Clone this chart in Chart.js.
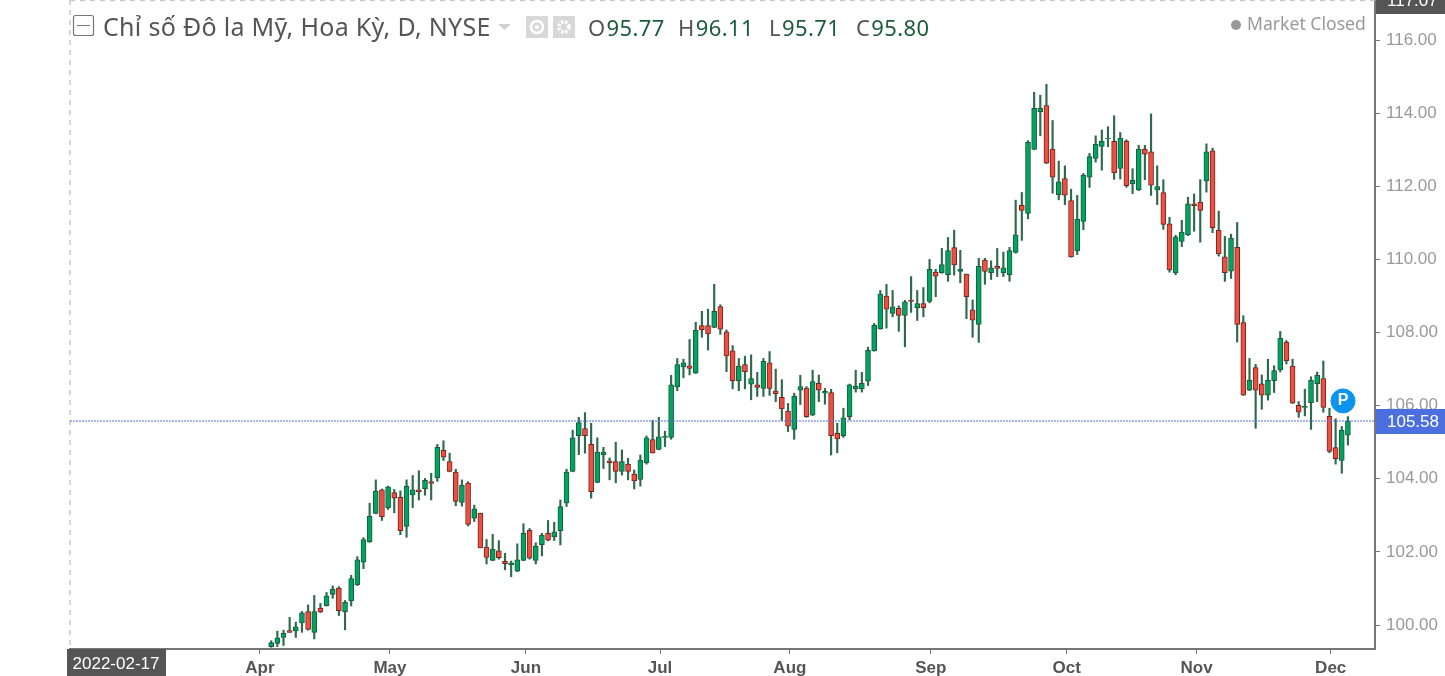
<!DOCTYPE html>
<html lang="vi">
<head>
<meta charset="utf-8">
<title>Chỉ số Đô la Mỹ</title>
<script src="https://cdn.jsdelivr.net/npm/chart.js@4"></script>
<style>
    html, body { margin: 0; padding: 0; background: #fff; overflow: hidden; }
    #wrap { position: relative; width: 1445px; height: 676px; }
    #chart { position: absolute; left: 0; top: 0; }
    .txt { position: absolute; white-space: nowrap; font-family: "Noto Sans", sans-serif; color: #555; line-height: 1; }
    .ohlc { top: 16px; font-size: 22px; letter-spacing: 0.4px; }
    .val { color: #1d5c3a; margin-left: 1px; }
</style>
</head>
<body>
<div id="wrap">
    <canvas id="chart" width="1445" height="676"></canvas>
    <div class="txt" id="title" style="left:103px;top:14px;font-size:25px;letter-spacing:0.3px;">Chỉ số Đô la Mỹ, Hoa Kỳ, D, NYSE</div>
    <div class="txt ohlc" style="left:588px;">O<span class="val">95.77</span></div>
    <div class="txt ohlc" style="left:678px;">H<span class="val">96.11</span></div>
    <div class="txt ohlc" style="left:769px;">L<span class="val">95.71</span></div>
    <div class="txt ohlc" style="left:856px;">C<span class="val">95.80</span></div>
    <div class="txt" style="left:1247px;top:15px;font-size:17.6px;color:#999;">Market Closed</div>
</div>
<script>
// Daily candles, one row = ten sessions
const opens = [
    99.41,99.50,99.66,99.85,99.84,100.06,100.37,99.80,100.46,100.53,
    100.84,101.01,100.36,100.66,101.10,101.72,102.28,103.05,103.70,103.21,
    103.62,103.49,102.70,103.56,103.70,103.73,103.92,104.02,104.78,104.47,
    104.18,103.35,103.88,102.92,103.06,102.13,101.77,102.03,101.74,101.65,
    101.47,101.77,102.59,101.77,102.20,102.51,102.41,102.58,103.34,104.20,
    105.18,105.37,104.94,103.90,104.66,104.49,104.47,104.20,104.40,104.13,
    103.98,104.44,105.07,104.80,105.13,105.13,106.51,107.06,107.09,106.89,
    108.19,108.19,108.14,108.71,108.02,107.50,106.68,107.12,106.59,106.57,
    106.47,107.17,106.40,106.23,105.85,105.35,106.42,106.48,105.74,106.61,
    106.34,106.36,105.24,105.18,105.70,106.46,106.46,106.67,107.50,108.10,
    109.00,108.52,108.66,108.47,108.89,108.68,108.79,108.85,109.65,109.64,
    109.58,110.32,109.67,109.60,108.62,108.22,109.98,109.64,109.81,109.64,
    109.58,110.19,111.48,111.26,113.01,114.04,114.21,113.02,111.77,112.21,
    111.61,110.23,111.04,112.25,112.76,113.09,113.30,113.23,112.49,113.23,
    112.07,111.90,113.02,112.94,111.90,111.83,110.97,109.63,110.49,110.67,
    111.52,111.57,112.15,112.97,110.80,110.07,109.68,110.33,108.27,106.42,
    107.04,106.60,106.29,106.68,106.98,107.73,107.08,106.01,105.95,106.08,
    106.60,106.74,105.71,104.85,104.50,105.19
];
const highs = [
    99.57,99.83,99.86,100.21,100.08,100.37,100.55,100.81,100.59,100.89,
    101.07,101.05,100.67,101.36,101.87,102.39,103.33,103.97,103.72,103.80,
    103.71,103.67,103.97,104.09,104.22,104.01,104.15,104.94,105.04,104.70,
    104.26,103.97,103.92,103.28,103.06,102.34,102.48,102.31,101.96,101.75,
    102.22,102.77,102.64,102.25,102.51,102.86,102.81,103.42,104.26,105.33,
    105.68,105.81,105.52,105.12,104.86,104.57,105.00,104.79,104.56,104.24,
    104.65,105.17,105.60,105.68,105.30,106.83,107.29,107.27,107.81,108.28,
    108.58,108.64,109.32,108.76,108.07,107.64,107.29,107.35,107.39,106.91,
    107.29,107.48,107.00,106.71,106.06,106.34,106.83,106.52,106.97,106.84,
    106.47,106.45,105.52,105.93,106.59,106.97,106.91,107.60,108.25,109.15,
    109.32,109.15,108.73,108.88,109.53,109.15,109.23,110.00,109.73,110.30,
    110.60,110.80,110.25,109.60,108.89,110.03,110.03,109.96,110.30,110.20,
    110.33,111.62,111.83,113.25,114.57,114.49,114.79,113.80,112.69,112.56,
    111.92,111.75,112.35,112.90,113.38,113.54,113.63,113.93,113.47,113.27,
    112.48,113.12,113.12,113.98,112.56,112.18,111.15,110.66,111.07,111.70,
    111.79,112.18,113.16,113.04,111.32,110.63,110.69,111.01,108.46,107.29,
    107.13,106.84,107.27,107.09,108.03,107.78,107.27,106.11,106.45,106.79,
    106.92,107.22,105.93,105.64,105.43,105.70
];
const lows = [
    99.39,99.41,99.44,99.80,99.66,99.80,99.86,99.62,100.34,100.52,
    100.73,100.26,99.87,100.52,101.08,101.54,102.26,103.04,102.86,103.16,
    103.07,102.47,102.40,103.21,103.42,103.55,103.42,103.93,104.50,104.19,
    103.26,103.25,102.71,102.83,102.11,101.67,101.76,101.80,101.51,101.32,
    101.46,101.76,101.80,101.67,101.89,102.30,102.31,102.19,103.24,104.19,
    104.66,104.70,103.47,103.89,104.28,103.97,103.89,104.10,103.97,103.72,
    103.80,104.40,104.70,104.79,104.88,105.08,106.41,106.76,106.84,106.88,
    107.87,107.52,108.13,107.95,106.93,106.46,106.41,106.46,106.16,106.25,
    106.25,106.28,106.11,105.59,105.29,105.08,106.03,105.68,105.73,106.11,
    106.04,104.65,104.71,105.13,105.61,106.37,106.37,106.55,107.49,108.09,
    108.12,108.43,108.03,107.61,108.55,108.33,108.43,108.81,108.98,109.62,
    109.40,109.57,109.36,108.38,107.87,107.73,109.32,109.45,109.53,109.53,
    109.40,110.17,110.52,111.11,113.00,113.38,112.62,111.81,111.63,111.50,
    110.06,110.13,110.81,111.97,112.66,112.44,113.08,112.19,112.20,111.97,
    111.80,111.88,112.18,111.75,111.50,110.82,109.65,109.58,110.35,110.65,
    110.77,110.47,111.84,110.73,110.09,109.40,109.48,107.74,106.28,106.41,
    105.38,105.90,106.15,106.36,106.92,107.14,106.06,105.68,105.72,105.35,
    106.11,105.82,104.71,104.40,104.15,104.92
];
const closes = [
    99.52,99.65,99.77,99.80,99.95,100.33,99.88,100.37,100.36,100.80,
    100.98,100.39,100.63,101.27,101.78,102.34,102.97,103.66,102.96,103.78,
    103.47,102.58,103.79,103.70,103.65,103.96,103.87,104.86,104.59,104.20,
    103.38,103.83,102.75,103.18,102.11,101.85,102.08,101.84,101.68,101.70,
    101.78,102.51,101.83,102.16,102.46,102.32,102.55,103.24,104.18,105.12,
    105.54,105.18,103.65,104.73,104.73,104.44,104.20,104.47,104.20,103.94,
    104.51,105.12,104.71,105.15,105.16,106.57,107.12,107.17,107.02,108.06,
    108.08,107.96,108.58,108.09,107.36,106.68,107.08,106.93,106.74,106.50,
    107.21,106.47,106.33,105.91,105.44,106.26,106.52,105.70,106.66,106.42,
    106.39,105.18,105.09,105.67,106.57,106.53,106.61,107.51,108.20,109.05,
    108.64,108.70,108.47,108.84,108.85,108.79,108.68,109.73,109.54,109.86,
    110.24,109.85,109.73,108.98,108.34,109.81,109.67,109.77,109.75,109.77,
    110.24,110.67,111.34,113.20,114.13,114.13,112.63,112.25,112.12,111.76,
    110.07,111.10,112.30,112.81,113.15,113.23,113.32,112.37,113.32,112.02,
    112.16,113.02,112.88,112.03,111.99,110.96,109.71,110.62,110.75,111.52,
    111.47,111.34,112.94,110.87,110.15,109.64,110.58,108.22,106.29,106.69,
    106.42,106.29,106.69,106.96,107.85,107.23,106.07,105.82,105.98,106.69,
    106.83,105.95,104.75,104.55,105.33,105.58
];

// Axis values: month ticks sit at session numbers, a bit off the candles like the original
const monthLabels = ['Apr', 'May', 'Jun', 'Jul', 'Aug', 'Sep', 'Oct', 'Nov', 'Dec'];
const monthSessions = [-0.84, 20.3, 42.4, 64.2, 85.3, 108.2, 130.3, 151.4, 173.2];
const priceTicks = [100, 102, 104, 106, 108, 110, 112, 114, 116];

const sessionMin = -31.7, sessionMax = 180.4;
const priceMin = 99.344, priceMax = 117.095;
const lastPrice = 105.58;
const topPrice = '117.07';
const startDate = '2022-02-17';
const markerSession = 175.2, markerPrice = 106.13;

const GREEN = '#00a35f', GREEN_EDGE = '#1c5a3e';
const RED = '#ef4f40', RED_EDGE = '#74241f';
const WICK = '#2f6a4d';

const sessions = opens.map((_, i) => i + 1);
const isUp = i => closes[i] >= opens[i];

// The tick labels must not push the plot area in from the edges
const noPadding = scale => {
    scale.paddingTop = scale.paddingBottom = scale.paddingLeft = scale.paddingRight = 0;
};

// Everything the library has no element for: crosshair lines, price tags, header icons
const overlayPlugin = {
    id: 'overlay',
    beforeDatasetsDraw(chart) {
        const { ctx, chartArea: a } = chart;
        ctx.save();
        ctx.strokeStyle = '#c9c9c9';
        ctx.lineWidth = 1.5;
        ctx.setLineDash([5, 5]);
        ctx.beginPath();
        ctx.moveTo(a.left, 0.5);
        ctx.lineTo(a.right, 0.5);
        ctx.moveTo(a.left, 0);
        ctx.lineTo(a.left, a.bottom);
        ctx.stroke();
        ctx.restore();
    },
    afterDraw(chart) {
        const { ctx, chartArea: a, scales } = chart;
        ctx.save();

        // last price tag
        const py = scales.y.getPixelForValue(lastPrice);
        ctx.fillStyle = '#4c6fe0';
        ctx.fillRect(a.right + 1, py - 12, 70, 25);
        ctx.fillStyle = '#fff';
        ctx.font = '17px "Liberation Sans", Arial, sans-serif';
        ctx.textBaseline = 'middle';
        ctx.textAlign = 'left';
        ctx.fillText(lastPrice.toFixed(2), 1387, py + 1);

        // crosshair price tag, cut by the top edge
        ctx.fillStyle = '#555';
        ctx.fillRect(a.right + 1, 0, 70, 14);
        ctx.fillStyle = '#fff';
        ctx.fillText(topPrice, 1387, 1);

        // crosshair date tag
        ctx.fillStyle = '#555';
        ctx.fillRect(67, a.bottom, 99, 27);
        ctx.fillStyle = '#fff';
        ctx.textAlign = 'center';
        ctx.fillText(startDate, 116, a.bottom + 15);

        // P marker letter
        const mx = scales.x.getPixelForValue(markerSession);
        const my = scales.y.getPixelForValue(markerPrice);
        ctx.font = 'bold 16px "Liberation Sans", Arial, sans-serif';
        ctx.fillText('P', mx, my);

        // header icons
        ctx.strokeStyle = '#777';
        ctx.lineWidth = 1.2;
        ctx.beginPath();
        ctx.roundRect(73.5, 15.5, 20, 20, 2);
        ctx.moveTo(77, 25.5);
        ctx.lineTo(90, 25.5);
        ctx.stroke();

        ctx.fillStyle = '#d0d0d0';
        ctx.beginPath();
        ctx.moveTo(498, 24);
        ctx.lineTo(511, 24);
        ctx.lineTo(504.5, 30);
        ctx.fill();

        ctx.fillStyle = '#d8d8d8';
        ctx.fillRect(526, 16, 22, 22);
        ctx.fillRect(553, 16, 22, 22);
        ctx.strokeStyle = '#fff';
        ctx.lineWidth = 2.5;
        ctx.beginPath();
        ctx.arc(537, 27, 6, 0, Math.PI * 2);
        ctx.stroke();
        ctx.beginPath();
        ctx.arc(564, 27, 5, 0, Math.PI * 2);
        ctx.lineWidth = 3.5;
        ctx.setLineDash([2.5, 1.5]);
        ctx.stroke();
        ctx.setLineDash([]);
        ctx.fillStyle = '#fff';
        ctx.beginPath();
        ctx.arc(537, 27, 2, 0, Math.PI * 2);
        ctx.fill();

        ctx.fillStyle = '#999';
        ctx.beginPath();
        ctx.arc(1236, 25, 5, 0, Math.PI * 2);
        ctx.fill();
        ctx.restore();
    }
};

new Chart(document.getElementById('chart').getContext('2d'), {
    type: 'bar',
    data: {
        datasets: [
            {
                type: 'line',
                data: [{ x: sessionMin, y: lastPrice }, { x: sessionMax, y: lastPrice }],
                borderColor: '#4c6fe0',
                borderWidth: 1,
                borderDash: [2, 1],
                pointRadius: 0,
                order: 0
            },
            {
                type: 'scatter',
                data: [{ x: markerSession, y: markerPrice }],
                backgroundColor: '#0a93f0',
                borderColor: '#0a93f0',
                pointRadius: 12,
                clip: false,
                order: 0
            },
            {
                // candle bodies
                data: sessions.map((s, i) => ({ x: s, y: [opens[i], closes[i]] })),
                backgroundColor: sessions.map((_, i) => isUp(i) ? GREEN : RED),
                borderColor: sessions.map((_, i) => isUp(i) ? GREEN_EDGE : RED_EDGE),
                borderWidth: 1,
                borderSkipped: false,
                barThickness: 5,
                grouped: false,
                order: 1
            },
            {
                // wicks
                data: sessions.map((s, i) => ({ x: s, y: [lows[i], highs[i]] })),
                backgroundColor: WICK,
                barThickness: 1.5,
                grouped: false,
                order: 2
            }
        ]
    },
    options: {
        responsive: false,
        animation: false,
        devicePixelRatio: 1,
        // the P marker would otherwise reserve room around the plot
        layout: { autoPadding: false, padding: { left: 70, top: 0, right: 0, bottom: 0 } },
        plugins: { legend: { display: false }, tooltip: { enabled: false } },
        scales: {
            x: {
                type: 'linear',
                offset: false,
                min: sessionMin,
                max: sessionMax,
                afterBuildTicks: scale => { scale.ticks = monthSessions.map(v => ({ value: v })); },
                afterFit: scale => { scale.height = 27; noPadding(scale); },
                border: { color: '#777', width: 2 },
                grid: { offset: false, drawOnChartArea: false, color: '#777', tickLength: 5 },
                ticks: {
                    autoSkip: false,
                    maxRotation: 0,
                    padding: 4,
                    color: '#555',
                    font: { family: '"Liberation Sans", Arial, sans-serif', size: 17, weight: 'bold' },
                    callback: (v, i) => monthLabels[i]
                }
            },
            y: {
                position: 'right',
                min: priceMin,
                max: priceMax,
                afterBuildTicks: scale => { scale.ticks = priceTicks.map(v => ({ value: v })); },
                afterFit: scale => { scale.width = 70; noPadding(scale); },
                border: { color: '#777', width: 2 },
                grid: { offset: false, drawOnChartArea: false, color: '#777', tickLength: 5 },
                ticks: {
                    padding: 6,
                    color: '#999',
                    font: { family: '"Liberation Sans", Arial, sans-serif', size: 17 },
                    callback: v => v.toFixed(2)
                }
            }
        }
    },
    plugins: [overlayPlugin]
});
</script>
</body>
</html>
